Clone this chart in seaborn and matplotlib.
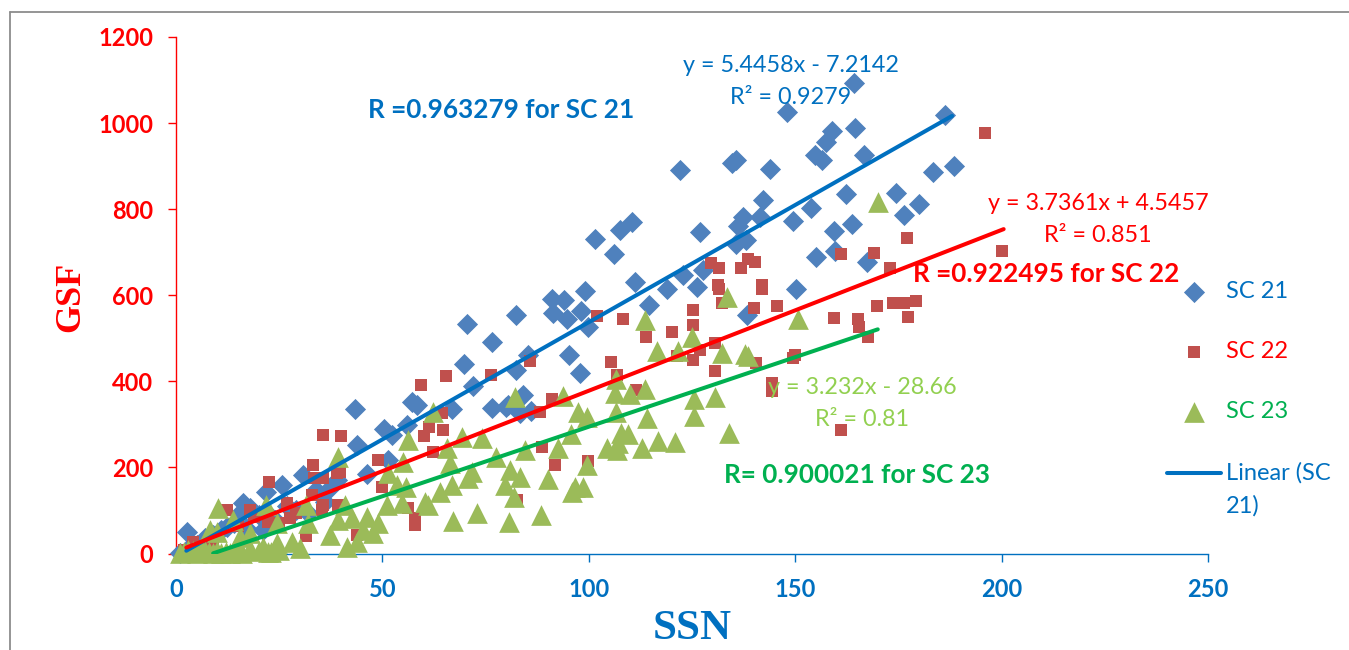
import matplotlib
matplotlib.use("Agg")
import matplotlib.pyplot as plt
import numpy as np
import pandas as pd
import seaborn as sns
from matplotlib.lines import Line2D

W, H = 1349, 650

sc21_ssn = [164.2,148,186.2,164.6,158.8,157.4,154.9,156.5,166.7,122.1,134.6,135.7,143.9,188.5,183.4,142.2,162.4,
            174.4,180,176.4,153.8,149.5,163.7,159.4,137.4,141.4,136.1,138,135.6,127,101.6,107.6,110.5,106.1,159.6,
            155,167.4,122.8,127.6,111.3,118.9,126.2,150.2,99.2,91,94,91.3,98.1,94.7,99.8,82.4,114.5,138.3,85.3,
            95.2,82.4,97.9,84,80.5,83.3,86,70.5,76.5,69.8,72,76.5,80,43.4,57.2,58.4,66.9,50.4,52.3,56,43.8,
            2.7,16.2,18,25.7,21.8,30.8,34,37.3,46.3,51.4,39,15.5,12.4,21,23,29,1,3,5,7,9,11,14,17,20,24,27,32,36]
sc21_gsf = [1093,1026,1018,989,981,956,926,914,926,891,907,914,893,900,886,821,835,
            838,812,786,803,772,766,749,782,782,761,728,719,747,731,752,770,696,703,
            689,677,647,659,631,615,620,615,610,591,589,559,563,545,526,554,577,554,461,
            461,426,419,368,345,326,330,533,491,440,389,338,340,336,352,345,336,289,275,299,252,
            50,117,106,159,143,182,147,152,185,217,170,94,62,55,85,100,2,10,20,35,42,55,72,60,90,78,110,95,120]

sc22_ssn = [196,177,200,161,169,173,129.7,131.5,138.6,140.3,136.9,131.5,142,179.3,176.4,173.7,169.8,177.3,159.4,
            165.2,165.5,167.6,145.6,140,132.3,142,131.3,125.2,125.2,120.2,113.9,108.3,102,125.2,121.4,126.9,130.6,
            130.6,140.5,150,149.5,105.4,106.8,111.4,144.4,144.4,161.1,91,88.2,85.8,88.7,91.8,99.8,82.6,
            35.6,40,59.3,65.4,76.3,64.4,61.3,60,64.7,62.3,48.9,49.9,56.2,57.9,57.9,31.5,33.2,22.5,35.6,33.5,
            39,39.7,32.9,35.6,35.4,27.6,26.9,17.9,12.4,22.3,43.8,4.1,39.2,2,6,9,15,19,25,29]
sc22_gsf = [977,733,703,695,698,663,675,663,684,677,664,615,615,587,582,582,575,550,547,
            545,526,503,575,570,582,624,624,566,531,515,503,545,552,450,459,473,489,
            424,443,461,454,445,415,380,396,378,287,359,329,447,247,206,215,124,
            275,273,392,413,415,326,294,273,287,236,217,155,106,66,82,41,206,166,175,175,
            187,190,136,113,101,82,117,101,101,73,43,27,113,8,18,30,65,85,70,95]

sc23_ssn = [170,133.5,150.7,113.6,125,116.5,121.6,132.3,137.8,138.6,106.6,106.3,110,113.6,93.8,82.1,97.4,99.6,
            106.6,114.1,125.5,130.6,125.5,134,95.7,107.8,109.5,107.1,104.4,106.8,112.9,116.8,120.9,84.5,92.5,
            80.9,83.3,90.1,99.6,96.7,98.6,79.7,81.9,95.9,80.7,88.4,67.1,72.9,62.3,56.2,69.3,74.1,77.5,65.6,
            66.4,55,51.4,53.5,55.7,51.1,54.7,60.3,61,64,66.9,71.7,70.7,39.2,10.2,21.8,31.5,24.5,40.9,32,46.3,
            48.9,42.6,39.2,37.3,41.4,43.8,45.3,47.7,30,28.1,22.3,24.5,17.9,13.8,8.2,9.9,15.5,
            1,2,3,4,5,6,7,8,9,10,11,12,13,14,15,16,18,20,21,23,25]
sc23_gsf = [817,596,545,543,503,470,470,466,463,459,405,373,370,382,366,364,329,317,
            329,315,359,364,320,280,278,280,278,257,245,240,245,261,259,240,245,
            194,178,173,206,155,155,159,132,143,73,89,75,94,329,264,271,268,224,245,
            210,213,187,159,155,113,117,120,113,143,159,189,175,224,106,113,113,71,113,71,85,
            71,82,78,43,15,27,55,48,13,27,4,24,48,78,55,50,39,
            1,3,8,5,2,12,5,3,1,6,2,4,1,7,3,2,10,5,15,3,8]

trend_slopes = [5.4458, 3.7361, 3.232]
trend_intercepts = [-7.2142, 4.5457, -28.66]
trend_starts = [2.5, 2.5, 9]
trend_ends = [188, 200.5, 170]

x_ticks = [0, 50, 100, 150, 200, 250]
y_ticks = [0, 200, 400, 600, 800, 1000, 1200]

BLUE, RED, GREEN = "#0070C0", "#FF0000", "#00B050"
sns.set_theme(style="white")
plt.rcParams["font.family"] = ["Lato", "DejaVu Sans"]

fig = plt.figure(figsize=(W / 100, H / 100), dpi=100, facecolor="white")
ax = fig.add_axes([176 / W, 1 - 553.5 / H, (1208 - 176) / W, (553.5 - 37) / H])

series = [("SC 21", sc21_ssn, sc21_gsf, "D", 116, "#4F81BD"),
          ("SC 22", sc22_ssn, sc22_gsf, "s", 83, "#C0504D"),
          ("SC 23", sc23_ssn, sc23_gsf, "^", 222, "#9BBB59")]
for name, xs, ys, marker, size, colour in series:
    df = pd.DataFrame({"SSN": xs, "GSF": ys})
    sns.scatterplot(data=df, x="SSN", y="GSF", marker=marker, s=size, color=colour,
                    linewidth=0, clip_on=False, ax=ax, label=name, zorder=3)

for i, colour in enumerate([BLUE, RED, GREEN]):
    tx = np.array([trend_starts[i], trend_ends[i]])
    ty = trend_slopes[i] * tx + trend_intercepts[i]
    sns.lineplot(x=tx, y=ty, color=colour, linewidth=2.9, ax=ax, zorder=4,
                 solid_capstyle="round", estimator=None, sort=False,
                 label="Linear (SC\n21)" if i == 0 else None)

ax.set_xlim(0, 250)
ax.set_ylim(0, 1200)
ax.set_xticks(x_ticks)
ax.set_yticks(y_ticks)
ax.tick_params(axis="x", colors=BLUE, length=5.5, width=1, pad=12, direction="out", bottom=True)
ax.tick_params(axis="y", colors=RED, length=5.5, width=1, pad=11, direction="out", left=True)
for lab in ax.get_xticklabels() + ax.get_yticklabels():
    lab.set_fontsize(17)
    lab.set_fontweight("bold")
for side in ["top", "right"]:
    ax.spines[side].set_visible(False)
ax.spines["left"].set_color(RED)
ax.spines["bottom"].set_color(BLUE)
ax.spines["left"].set_linewidth(1)
ax.spines["bottom"].set_linewidth(1)
ax.set_xlabel("")
ax.set_ylabel("")


def label(px, py, text, colour, size, weight="normal", family=None, rotation=0):
    fig.text(px / W, 1 - py / H, text, color=colour, fontsize=size, fontweight=weight,
             ha="center", va="center", rotation=rotation, family=family or ["Lato", "DejaVu Sans"], zorder=6)


label(692, 629, "SSN", BLUE, 31, "bold", "Liberation Serif")
label(71, 297, "GSF", RED, 26, "bold", "Liberation Serif", 90)
label(791, 66, "y = 5.4458x - 7.2142", BLUE, 16.8)
label(791, 97, "R² = 0.9279", BLUE, 16.8)
label(501, 110, "R =0.963279 for SC 21", BLUE, 18.8, "bold")
label(1098, 203, "y = 3.7361x + 4.5457", RED, 16.8)
label(1098, 235, "R² = 0.851", RED, 16.8)
label(1046, 274, "R =0.922495 for SC 22", RED, 18.8, "bold")
label(862, 388, "y = 3.232x - 28.66", "#92D050", 16.8)
label(862, 419, "R² = 0.81", "#92D050", 16.8)
label(857, 475, "R= 0.900021 for SC 23", GREEN, 18.8, "bold")

handles, labels = ax.get_legend_handles_labels()
leg = ax.legend(handles, labels, loc="upper left", bbox_to_anchor=(1167 / W, 1 - 281 / H),
                bbox_transform=fig.transFigure, frameon=False, fontsize=17, labelspacing=1.66,
                handlelength=2.29, handletextpad=0.19, borderpad=0, borderaxespad=0, scatterpoints=1,
                labelcolor=[BLUE, RED, GREEN, BLUE])
leg.get_texts()[3].set_linespacing(1.7)
line_handle = leg.legend_handles[3]
line_handle.set_ydata(np.asarray(line_handle.get_ydata()) + 11.9)

fig.add_artist(Line2D([10 / W, 10 / W], [0, 1 - 12 / H], color="#8C8C8C", linewidth=1.3))
fig.add_artist(Line2D([10 / W, 1], [1 - 12 / H, 1 - 12 / H], color="#8C8C8C", linewidth=1.3))

fig.savefig("out.png", dpi=100, facecolor="white")
